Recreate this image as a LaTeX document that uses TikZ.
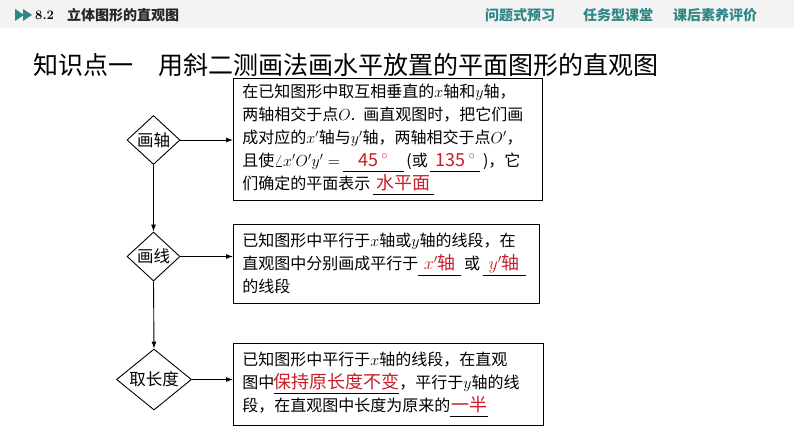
\RequirePackage{fix-cm}
\documentclass[tikz,border=0pt]{standalone}
\usepackage{fontspec}
\usetikzlibrary{shapes.geometric,arrows.meta}
\newfontfamily\cjk{Noto Sans CJK SC}
\definecolor{ansred}{RGB}{200,30,40}
\definecolor{tabteal}{RGB}{46,134,134}
\definecolor{bandgray}{RGB}{243,243,243}
\newcommand{\fillin}[2]{\makebox[#1]{\fontsize{18}{23}\selectfont\textcolor{ansred}{#2}}\llap{\rule[-6pt]{#1}{0.8pt}}}

\begin{document}
\begin{tikzpicture}[x=1pt,y=-1pt,
  flowdiamond/.style={draw,shape=diamond,aspect=1.1,inner sep=0pt,line width=0.9pt,font=\cjk\fontsize{16.5}{20}\selectfont},
  notebox/.style={draw,line width=0.8pt,anchor=north west,align=left,inner xsep=9pt,inner ysep=0pt,font=\cjk\fontsize{16}{23}\selectfont},
  flowarrow/.style={-{Latex[length=7pt,width=5pt]},line width=0.9pt},
  tab/.style={anchor=west,inner sep=0pt,text=tabteal,font=\cjk\bfseries\fontsize{14}{16}\selectfont}]

%Page and header band
\useasboundingbox (0,0) rectangle (794,446);
\fill[white] (0,0) rectangle (794,446);
\fill[bandgray] (0,0) rectangle (794,28);
\fill[tabteal] (15,9) -- (24,15) -- (15,21) -- cycle;
\fill[tabteal] (23,9) -- (32,15) -- (23,21) -- cycle;
\node[anchor=west,inner sep=0pt,font=\bfseries\fontsize{13}{15}\selectfont] (sec) at (35,15) {8.2};
\node[anchor=west,inner sep=0pt,font=\cjk\bfseries\fontsize{14}{16}\selectfont,text=black!85] (chap) at (67,15) {立体图形的直观图};
\node[tab] (t1) at (485,15) {问题式预习};
\node[tab] (t2) at (583,15) {任务型课堂};
\node[tab] (t3) at (673,15) {课后素养评价};

%Title
\node[anchor=west,inner sep=0pt,font=\cjk\fontsize{25}{30}\selectfont] (title) at (33,65) {知识点一　用斜二测画法画水平放置的平面图形的直观图};

%Steps
\node[flowdiamond,minimum width=53pt,minimum height=49pt] (D1) at (153.5,140) {画轴};
\node[flowdiamond,minimum width=53pt,minimum height=49pt] (D2) at (153.5,256.5) {画线};
\node[flowdiamond,minimum width=75pt,minimum height=61pt] (D3) at (154,379.5) {取长度};

%Notes
\node[notebox,text width=291pt,minimum height=122pt] (B1) at (233,78)
  {在已知图形中取互相垂直的$x$轴和$y$轴，\\
   两轴相交于点$O$. 画直观图时，把它们画\\
   成对应的$x'$轴与$y'$轴，两轴相交于点$O'$，\\
   且使$\angle x'O'y'=$\,\fillin{61pt}{45\,$^\circ$}\,(或\,\fillin{50pt}{135\,$^\circ$}\,)，它\\
   们确定的平面表示\,\fillin{61pt}{水平面}};
\node[notebox,text width=288pt,minimum height=79pt] (B2) at (233,224)
  {已知图形中平行于$x$轴或$y$轴的线段，在\\
   直观图中分别画成平行于\fillin{43pt}{$x'$轴}\,或\,\fillin{43pt}{$y'$轴}\\
   的线段};
\node[notebox,text width=292pt,minimum height=82pt] (B3) at (233,343)
  {已知图形中平行于$x$轴的线段，在直观\\
   图中\fillin{125pt}{保持原长度不变}，平行于$y$轴的线\\
   段，在直观图中长度为原来的\fillin{38pt}{一半}};

%Connectors
\draw[flowarrow] (D1.south) -- (D2.north);
\draw[flowarrow] (D2.south) -- (D3.north);
\draw[flowarrow] (D1.east) -- (D1.east -| B1.west);
\draw[flowarrow] (D2.east) -- (D2.east -| B2.west);
\draw[flowarrow] (D3.east) -- (D3.east -| B3.west);

\end{tikzpicture}
\end{document}
